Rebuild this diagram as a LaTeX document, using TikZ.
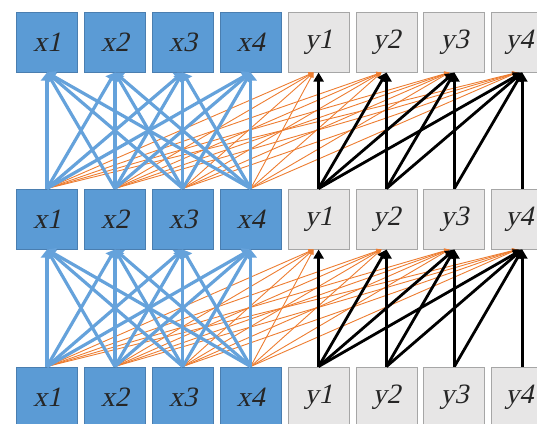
\documentclass[tikz,border=0pt]{standalone}
\usepackage{fontspec}
\setmainfont{Liberation Serif}
\newfontfamily\boxfont{Liberation Serif}[FakeSlant=0.22]
\usetikzlibrary{arrows.meta}
\definecolor{boxblue}{HTML}{5B9BD5}
\definecolor{boxblueedge}{HTML}{4A7EB0}
\definecolor{boxgray}{HTML}{E7E6E6}
\definecolor{boxgrayedge}{HTML}{A6A6A6}
\definecolor{lineblue}{HTML}{65A2DB}
\definecolor{lineorange}{HTML}{ED7D31}
\begin{document}
\begin{tikzpicture}[x=1pt,y=-1pt,
  basebox/.style={line width=1pt, minimum width=61pt, minimum height=60pt, inner sep=0pt,
    font=\boxfont\fontsize{28}{28}\selectfont, text=black!85, yshift=-2pt},
  xbox/.style={basebox, draw=boxblueedge, fill=boxblue},
  ybox/.style={basebox, draw=boxgrayedge, fill=boxgray},
  bline/.style={draw=lineblue, line width=3.2pt, -{Triangle[length=8pt,width=12pt]}},
  kline/.style={draw=black, line width=2.8pt, -{Triangle[length=9pt,width=10pt]}},
  oline/.style={draw=lineorange, line width=0.9pt, -{Triangle[length=5pt,width=5pt]}}
]
\useasboundingbox (0,0) rectangle (537,423);
\clip (0,0) rectangle (537,423);
\foreach \r/\yy in {1/40,2/217,3/395} {
  \foreach \i in {1,...,4} {
    \node[xbox] (x\r\i) at ({47+67.9*(\i-1)}, \yy) {x\i};
    \node[ybox] (y\r\i) at ({47+67.9*(\i+3)}, \yy) {\ifnum\i=4 \kern-6pt\fi y\i};
  }
}
\foreach \l/\u in {2/1,3/2} {
  \foreach \i in {1,...,4} {
    \foreach \j in {1,...,4} {
      \draw[oline] (x\l\i.north) -- ([xshift=-5pt]y\u\j.south);
    }
  }
  \foreach \i in {1,...,4} {
    \foreach \j in {1,...,4} {
      \draw[bline] (x\l\i.north) -- (x\u\j.south);
    }
  }
  \foreach \i in {1,...,4} {
    \foreach \j in {\i,...,4} {
      \draw[kline] (y\l\i.north) -- (y\u\j.south);
    }
  }
}
\end{tikzpicture}
\end{document}
